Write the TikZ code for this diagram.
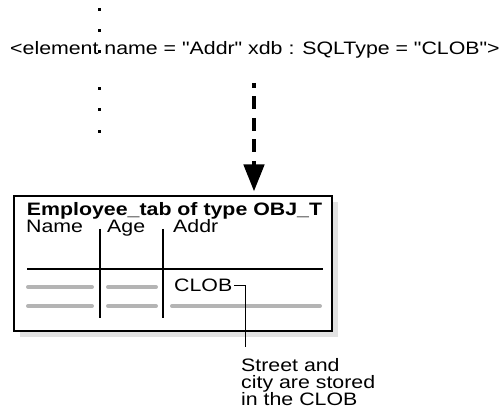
\documentclass[tikz,border=0pt]{standalone}
\usepackage{fontspec}
\setmainfont{Liberation Sans}[FakeStretch=1.185, Ligatures=TeXOff]
\usetikzlibrary{arrows.meta,shadows}
\definecolor{rulegray}{HTML}{B4B4B4}
\definecolor{shadowgray}{HTML}{E2E2E2}
\begin{document}
\begin{tikzpicture}[x=1pt,y=-1pt,
  txt/.style={inner sep=0pt, font=\fontsize{18}{16.5}\selectfont},
  dotmark/.style={fill=black, rectangle, minimum size=3pt, inner sep=0pt},
  blackrule/.style={black, line width=2pt},
  grayrule/.style={rulegray, line width=4pt, line cap=round},
  leader/.style={black, line width=1pt},
  bigarrow/.style={line width=4.5pt, dash pattern=on 13pt off 8.5pt, dash phase=8pt,
    -{Triangle[width=20pt,length=27pt]}, shorten >=4.5pt}]
\useasboundingbox (0,0) rectangle (499,419);
% dots
\foreach \y [count=\i] in {10,31,52,89,110,132}
  \node[dotmark] (d\i) at (99,\y) {};
% element line
\node[txt, anchor=base west] (elem) at (10,55) {<element name = "Addr" xdb : SQLType = "CLOB">};
% table box
\node[draw, line width=2pt, fill=white, minimum width=318pt, minimum height=135pt,
  inner sep=0pt, outer sep=0pt,
  drop shadow={shadow xshift=6pt, shadow yshift=-6pt, fill=shadowgray, opacity=1}]
  (box) at (173,263.5) {};
% arrow
\coordinate (arrtop) at (254,83);
\draw[bigarrow] (arrtop) -- (arrtop |- box.north);
% title and headers
\node[txt, font=\fontsize{18}{16}\selectfont\bfseries, anchor=base] (title) at (174.5,216) {Employee\_tab of type OBJ\_T};
\node[txt, anchor=base west] (hname) at (26,233) {Name};
\node[txt, anchor=base west] (hage) at (107,233) {Age};
\node[txt, anchor=base west] (haddr) at (173,233) {Addr};
% rules
\draw[blackrule] (99.5,229) -- (99.5,318);
\draw[blackrule] (162.5,229) -- (162.5,318);
\draw[blackrule] (27,269.5) -- (323,269.5);
\draw[grayrule] (28,287) -- (92,287);
\draw[grayrule] (108,287) -- (156,287);
\draw[grayrule] (28,306) -- (92,306);
\draw[grayrule] (108,306) -- (156,306);
\draw[grayrule] (172,306) -- (320,306);
% CLOB and note
\node[txt, anchor=base west] (clob) at (174,292) {CLOB};
\coordinate (lead) at (245,347);
\draw[leader] ([xshift=2pt]clob.east) -| (lead);
\node[txt, anchor=base west, align=left] (note) at (241,406) {Street and\\city are stored\\in the CLOB};
\end{tikzpicture}
\end{document}
